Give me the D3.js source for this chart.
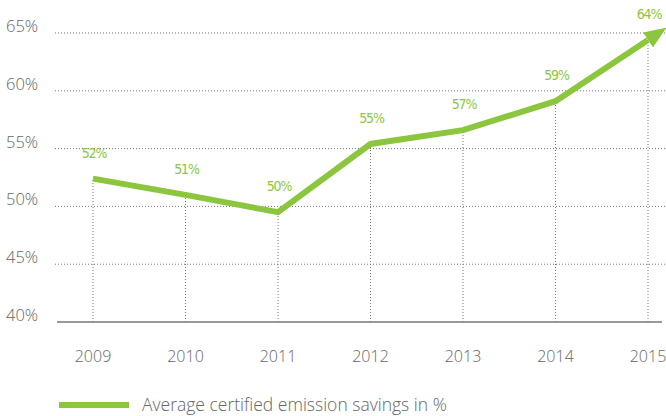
<!DOCTYPE html>
<html lang="en">
<head>
<meta charset="utf-8" />
<title>Emission savings</title>
<script src="https://cdn.jsdelivr.net/npm/d3@7"></script>
<style>
  body { margin: 0; background: #fff; }
</style>
</head>
<body>
<svg id="chart" width="666" height="416"></svg>
<script>
// data
const years = [2009, 2010, 2011, 2012, 2013, 2014, 2015];
const savings = [52.4, 51.0, 49.5, 55.4, 56.6, 59.1, 64.4];
const pointLabels = ["52%", "51%", "50%", "55%", "57%", "59%", "64%"];
const yTicks = [40, 45, 50, 55, 60, 65];
const legendLabel = "Average certified emission savings in %";

const green = "#8cc63f";
const grey = "#666";

const svg = d3.select("#chart").attr("font-family", "Open Sans");

const xScale = d3.scaleLinear().domain([2009, 2015]).range([93, 648]);
const yScale = d3.scaleLinear().domain([40, 65]).range([322, 33]);

const data = years.map((y, i) => ({ year: y, value: savings[i], label: pointLabels[i] }));

// horizontal dotted gridlines
svg.append("g")
  .selectAll("line")
  .data(yTicks.filter(t => t > 40))
  .enter()
  .append("line")
  .attr("x1", 55)
  .attr("x2", 666)
  .attr("y1", d => yScale(d))
  .attr("y2", d => yScale(d))
  .attr("stroke", "#777")
  .attr("stroke-width", 1)
  .attr("stroke-dasharray", "1,2");

// vertical dotted drop lines
svg.append("g")
  .selectAll("line")
  .data(data)
  .enter()
  .append("line")
  .attr("x1", d => xScale(d.year))
  .attr("x2", d => xScale(d.year))
  .attr("y1", yScale(40))
  .attr("y2", d => yScale(d.value))
  .attr("stroke", "#777")
  .attr("stroke-width", 1)
  .attr("stroke-dasharray", "1,2");

// baseline
svg.append("line")
  .attr("x1", 57)
  .attr("x2", 662)
  .attr("y1", yScale(40))
  .attr("y2", yScale(40))
  .attr("stroke", "#777")
  .attr("stroke-width", 1.5);

// y labels
svg.append("g")
  .selectAll("text")
  .data(yTicks)
  .enter()
  .append("text")
  .attr("x", 6)
  .attr("y", d => yScale(d) - 1)
  .attr("fill", grey)
  .attr("font-size", "16.5px")
  .attr("font-weight", 300)
  .text(d => d + "%");

// x labels
svg.append("g")
  .selectAll("text")
  .data(years)
  .enter()
  .append("text")
  .attr("x", d => xScale(d))
  .attr("y", 362)
  .attr("text-anchor", "middle")
  .attr("fill", grey)
  .attr("font-size", "16px")
  .attr("font-weight", 300)
  .text(d => d);

// arrow marker
svg.append("defs")
  .append("marker")
  .attr("id", "arrow")
  .attr("markerUnits", "userSpaceOnUse")
  .attr("markerWidth", 26)
  .attr("markerHeight", 24)
  .attr("viewBox", "0 -12 26 24")
  .attr("refX", 0)
  .attr("refY", 0)
  .attr("orient", "auto")
  .append("path")
  .attr("d", "M0,-9L22,0L0,9Z")
  .attr("fill", green);

const line = d3.line()
  .x(d => xScale(d.year))
  .y(d => yScale(d.value));

svg.append("path")
  .datum(data)
  .attr("d", line)
  .attr("fill", "none")
  .attr("stroke", green)
  .attr("stroke-width", 6)
  .attr("stroke-linejoin", "miter")
  .attr("marker-end", "url(#arrow)");

// value labels
svg.append("g")
  .selectAll("text")
  .data(data)
  .enter()
  .append("text")
  .attr("x", d => xScale(d.year) + 1)
  .attr("y", d => yScale(d.value) - 21)
  .attr("text-anchor", "middle")
  .attr("fill", green)
  .attr("font-family", "DejaVu Sans Condensed")
  .attr("font-size", "14px")
  .attr("letter-spacing", "-1.2px")
  .text(d => d.label);

// legend
svg.append("line")
  .attr("x1", 59)
  .attr("x2", 129)
  .attr("y1", 405)
  .attr("y2", 405)
  .attr("stroke", green)
  .attr("stroke-width", 6);

svg.append("text")
  .attr("x", 142)
  .attr("y", 411)
  .attr("fill", grey)
  .attr("font-size", "17.5px")
  .attr("font-weight", 300)
  .text(legendLabel);
</script>
</body>
</html>
